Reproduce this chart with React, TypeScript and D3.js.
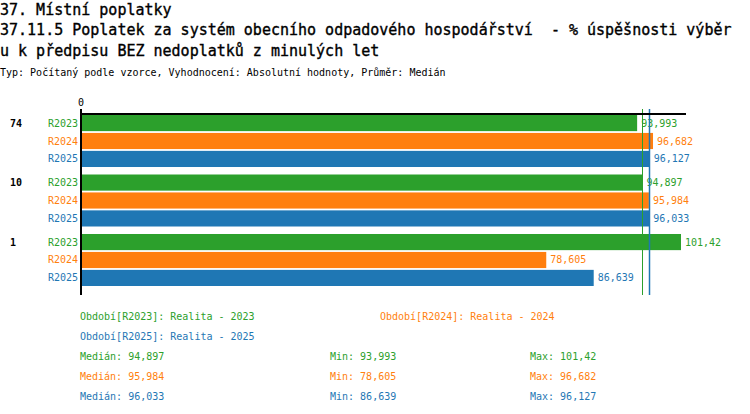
import * as d3 from 'd3';
import { useEffect } from 'react';

const titleLines = [
  '37. Místní poplatky',
  '37.11.5 Poplatek za systém obecního odpadového hospodářství  - % úspěšnosti výběr',
  'u k předpisu BEZ nedoplatků z minulých let',
];
const subtitle = 'Typ: Počítaný podle vzorce, Vyhodnocení: Absolutní hodnoty, Průměr: Medián';

const groups = ['74', '10', '1'];
const seriesNames = ['R2023', 'R2024', 'R2025'];
const r2023 = [93.993, 94.897, 101.42];
const r2024 = [96.682, 95.984, 78.605];
const r2025 = [96.127, 96.033, 86.639];
const legendLabels = [
  'Období[R2023]: Realita - 2023',
  'Období[R2024]: Realita - 2024',
  'Období[R2025]: Realita - 2025',
];
const colors = ['#2ca02c', '#ff7f0e', '#1f77b4'];

const mono = '"DejaVu Sans Mono", "Liberation Mono", monospace';

const csLocale = d3.formatLocale({
  decimal: ',',
  thousands: ' ',
  grouping: [3],
  currency: ['', ' Kč'],
});
const fmt = csLocale.format('.5~r');

const App = () => {
  useEffect(() => {
    document.body.style.margin = '0';
  }, []);

  const width = 750;
  const height = 414;
  const x0 = 82;
  const seriesValues = [r2023, r2024, r2025];
  const maxVal = d3.max(seriesValues.flat()) as number;

  const xScale = d3.scaleLinear().domain([0, maxVal]).range([0, 599]);

  const yGroup = d3.scaleBand().domain(groups).range([115, 286]).paddingInner(0.126);
  const yInner = d3
    .scaleBand()
    .domain(seriesNames)
    .range([0, yGroup.bandwidth()])
    .paddingInner(0.1);

  const stats = seriesValues.map((vals) => ({
    median: d3.median(vals) as number,
    min: d3.min(vals) as number,
    max: d3.max(vals) as number,
  }));

  const bw = yInner.bandwidth();
  const titleY = [15, 35, 55.5];

  return (
    <svg width={width} height={height} style={{ display: 'block' }}>
      {/* titles */}
      {titleLines.map((t, i) => (
        <text
          key={i}
          x={0}
          y={titleY[i]}
          fontFamily={mono}
          fontSize='15px'
          fill='#000'
          stroke='#000'
          strokeWidth={0.35}
          style={{ whiteSpace: 'pre' }}
        >
          {t}
        </text>
      ))}
      <text x={0} y={76} fontFamily={mono} fontSize='10px' fill='#000'>
        {subtitle}
      </text>

      {/* bars */}
      {groups.map((g, gi) => {
        const gy = yGroup(g) as number;
        return (
          <g key={g} transform={`translate(0,${gy})`}>
            <text
              x={10}
              y={(yInner(seriesNames[0]) as number) + bw / 2 + 3.5}
              fontFamily={mono}
              fontSize='10px'
              fontWeight='bold'
              fill='#000'
            >
              {g}
            </text>
            {seriesNames.map((s, si) => {
              const v = seriesValues[si][gi];
              const by = yInner(s) as number;
              return (
                <g key={s}>
                  <text
                    x={78}
                    y={by + bw / 2 + 3.5}
                    textAnchor='end'
                    fontFamily={mono}
                    fontSize='10px'
                    fill={colors[si]}
                  >
                    {s}
                  </text>
                  <rect x={x0} y={by} width={xScale(v)} height={bw} fill={colors[si]} />
                  <text
                    x={x0 + xScale(v) + 4}
                    y={by + bw / 2 + 3.5}
                    fontFamily={mono}
                    fontSize='10px'
                    fill={colors[si]}
                  >
                    {fmt(v)}
                  </text>
                </g>
              );
            })}
          </g>
        );
      })}

      {/* median lines */}
      {stats.map((st, si) => {
        const mx = Math.round(x0 + xScale(st.median)) + 0.5;
        return (
          <line
            key={si}
            x1={mx}
            x2={mx}
            y1={109}
            y2={295}
            stroke={colors[si]}
            strokeWidth={si === 2 ? 1.5 : 1}
          />
        );
      })}

      {/* axes */}
      <line x1={x0 - 1} x2={x0 + xScale(maxVal) + 5} y1={114} y2={114} stroke='#000' strokeWidth={2} />
      <line x1={x0 - 1} x2={x0 - 1} y1={109} y2={295} stroke='#000' strokeWidth={2} />
      <text x={x0 - 1} y={106} textAnchor='middle' fontFamily={mono} fontSize='10px' fill='#000'>
        {xScale.tickFormat()(0)}
      </text>

      {/* legend */}
      <text x={80} y={319.5} fontFamily={mono} fontSize='10px' fill={colors[0]}>
        {legendLabels[0]}
      </text>
      <text x={380} y={319.5} fontFamily={mono} fontSize='10px' fill={colors[1]}>
        {legendLabels[1]}
      </text>
      <text x={80} y={339.5} fontFamily={mono} fontSize='10px' fill={colors[2]}>
        {legendLabels[2]}
      </text>
      {stats.map((st, si) => (
        <g key={si} fontFamily={mono} fontSize='10px' fill={colors[si]}>
          <text x={80} y={359.5 + si * 20}>{`Medián: ${fmt(st.median)}`}</text>
          <text x={330} y={359.5 + si * 20}>{`Min: ${fmt(st.min)}`}</text>
          <text x={530} y={359.5 + si * 20}>{`Max: ${fmt(st.max)}`}</text>
        </g>
      ))}
    </svg>
  );
};

export default App;
